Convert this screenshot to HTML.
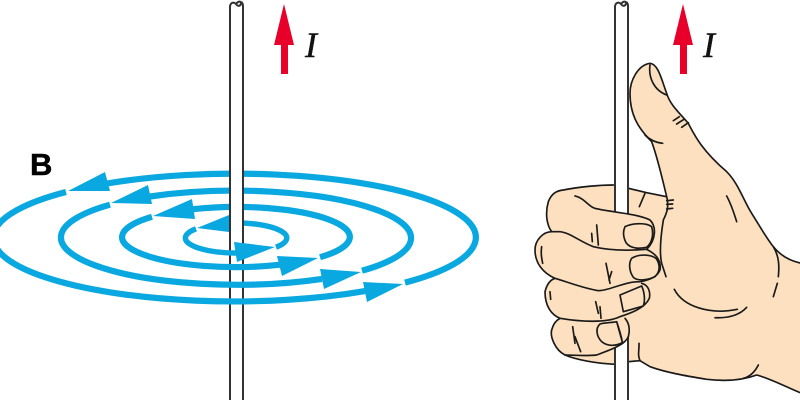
<!DOCTYPE html>
<html lang="en">
<head>
<meta charset="utf-8">
<title>Right-hand rule</title>
<style>
html,body{margin:0;padding:0;background:#fff;width:800px;height:400px;overflow:hidden}
svg{display:block}
.w{fill:#fff;stroke:none}
.wl{fill:none;stroke:#333;stroke-width:2}
.b{fill:none;stroke:#0aa8e0}
.ah{fill:#0aa8e0;stroke:none}
.red{fill:#e8002a;stroke:none}
.ink{fill:none;stroke:#1a1a1a;stroke-width:5;stroke-linecap:round;stroke-linejoin:round}
.skin{fill:#fde0bf;stroke:none}
</style>
</head>
<body>
<svg width="800" height="400" viewBox="0 0 800 400" xmlns="http://www.w3.org/2000/svg">
  <rect width="800" height="400" fill="#fff"/>

  <g>
    <path class="b" stroke-width="6.2" d="M405 282.6A240.5 63.75 0 0 0 107 183.5"/>
    <path class="b" stroke-width="6.2" d="M362 270.7A176.2 47.3 0 0 0 150 196.5"/>
    <path class="b" stroke-width="6.2" d="M320 257.2A113.5 30 0 0 0 193 209.2"/>
    <path class="b" stroke-width="5.4" d="M276 247.2A50.5 15 0 0 0 229 223.1"/>
  </g>

  <g>
    <rect class="w" x="230" y="4" width="13" height="396"/>
    <path class="wl" d="M230 400V6C231 2 234 2 236 4C238 7 241 6 241 3C241 1 243 3 243 6V400M236 4C238 1 241 1 241 3"/>
  </g>

  <g>
    <path class="b" stroke-width="6.2" d="M66 192A240.5 63.75 0 0 0 365 291.1"/>
    <path class="b" stroke-width="6.2" d="M110 204.7A176.2 47.3 0 0 0 322 278.9"/>
    <path class="b" stroke-width="6.2" d="M152 216.8A113.5 30 0 0 0 280 264.7"/>
    <path class="b" stroke-width="5.4" d="M196 228.8A50.5 15 0 0 0 236 253"/>
  </g>

  <g>
    <polygon class="ah" points="68,191 105,172 110,191"/>
    <polygon class="ah" points="111,203 148,185 152,204"/>
    <polygon class="ah" points="153,216 192,199 195,219"/>
    <polygon class="ah" points="197,228 229,215 229,232"/>
    <polygon class="ah" points="403,284 363,282 367,302"/>
    <polygon class="ah" points="361,272 320,269 324,289"/>
    <polygon class="ah" points="318,258 277,256 282,276"/>
    <polygon class="ah" points="275,247 234,242 237,262"/>
  </g>

  <text x="30" y="175" font-family="'Liberation Sans',sans-serif" font-weight="700" font-size="31" fill="#000" stroke="#000" stroke-width=".5">B</text>

  <polygon class="red" points="284,4 294,45 288,45 288,74 281,74 281,45 274,45"/>
  <text x="305" y="57" font-family="'Liberation Serif',serif" font-style="italic" font-size="36" fill="#111" stroke="#111" stroke-width=".4">I</text>

  <polygon class="red" points="683,4 693,45 687,45 687,74 680,74 680,45 673,45"/>
  <text x="703" y="57" font-family="'Liberation Serif',serif" font-style="italic" font-size="36" fill="#111" stroke="#111" stroke-width=".4">I</text>

  <g transform="translate(530 50) scale(.33333)">
    <path class="skin" d="M360 40C385 42 395 90 410 130C420 165 450 190 475 220C495 260 520 305 590 365C625 400 640 450 665 490C690 530 710 565 730 590C750 615 775 632 815 640V1030C770 1012 720 985 680 975C640 990 590 995 530 988C470 978 410 968 360 950L330 932L295 935L255 943C200 940 140 930 105 915C75 900 60 860 65 840C70 820 80 810 90 805C65 795 45 770 45 725C50 705 60 690 75 685C40 670 15 640 15 600C15 570 40 545 65 545C50 525 45 490 55 455C65 430 80 422 100 420C150 410 210 405 250 405L295 415L350 428L410 440C400 400 385 330 365 275C330 240 300 200 300 130C300 90 325 45 360 40Z"/>
    <path class="ink" d="M360 40C385 42 395 90 410 130C420 165 450 190 475 220C495 260 520 305 590 365C625 400 640 450 665 490C690 530 710 565 730 590C750 615 775 632 815 640M815 1030C770 1012 720 985 680 975C640 990 590 995 530 988C470 978 410 968 360 950L330 932L295 935M255 943C200 940 140 930 105 915C75 900 60 860 65 840C70 820 80 810 90 805C65 795 45 770 45 725C50 705 60 690 75 685C40 670 15 640 15 600C15 570 40 545 65 545C50 525 45 490 55 455C65 430 80 422 100 420C150 410 210 405 250 405M295 415L350 428L410 440C400 400 385 330 365 275C330 240 300 200 300 130C300 90 325 45 360 40"/>
  </g>

  <g>
    <rect class="w" x="615" y="4" width="13" height="396"/>
    <path class="wl" d="M615 400V6C616 2 619 2 621 4C623 7 626 6 626 3C626 1 628 3 628 6V400M621 4C623 1 626 1 626 3"/>
  </g>

  <g transform="translate(530 50) scale(.33333)">
    <path class="skin" d="M195 475C230 485 320 490 360 510L405 560L405 690L340 760L298 835C300 860 280 880 250 897L200 880L180 600Z"/>
    <path class="ink" d="M135 438C165 445 175 470 195 475C230 485 320 490 360 510C380 530 378 570 350 598C300 602 240 602 190 590C150 575 120 548 90 545L65 545"/>
    <path class="ink" d="M350 598C375 610 395 630 390 660C380 685 350 692 330 695C280 695 240 722 205 722C160 715 110 695 75 685"/>
    <path class="ink" d="M335 700C355 705 362 725 358 745C345 775 300 790 270 800C230 820 150 815 90 805"/>
    <path class="ink" d="M285 805C298 820 300 840 295 860C285 885 240 900 200 915C170 918 130 916 105 915"/>
    <path class="ink" d="M285 530C310 518 350 518 365 530C372 555 365 580 350 592C325 597 300 595 288 578C280 562 278 545 285 530Z"/>
    <path class="ink" d="M305 625C325 612 360 612 378 625C392 645 390 665 375 680C355 690 325 695 310 682C298 665 295 640 305 625Z"/>
    <path class="ink" d="M270 735L335 708C345 730 345 755 340 768L280 785Z"/>
    <path class="ink" d="M210 822C225 818 245 818 260 815C268 840 275 860 277 878C255 890 230 888 215 875C200 860 195 835 210 822ZM260 815L278 880"/>
    <path class="ink" d="M200 525L205 585M185 550L187 575M228 640L240 700M245 665L237 690M197 755L205 790M210 770L213 805M128 830L135 880M135 860L152 905M35 590C32 610 35 625 38 640M60 725L62 748M345 430L328 470"/>
    <path class="ink" d="M360 45C355 80 370 120 410 135M430 212L448 200M440 222L462 208M455 232L475 218M345 255C360 270 380 278 398 280"/>
    <path class="ink" d="M410 440C418 470 410 490 400 510C392 560 388 610 395 640L408 680M410 452L430 450M410 463L428 462M410 477L428 475"/>
    <path class="ink" d="M590 438C605 465 612 490 620 515M433 718C460 770 540 795 622 778M555 803C595 805 630 795 650 772M730 590C748 620 748 650 745 680M742 700L730 740M685 945C675 965 660 980 640 985M327 880C328 900 322 915 330 932"/>
  </g>
</svg>
</body>
</html>
